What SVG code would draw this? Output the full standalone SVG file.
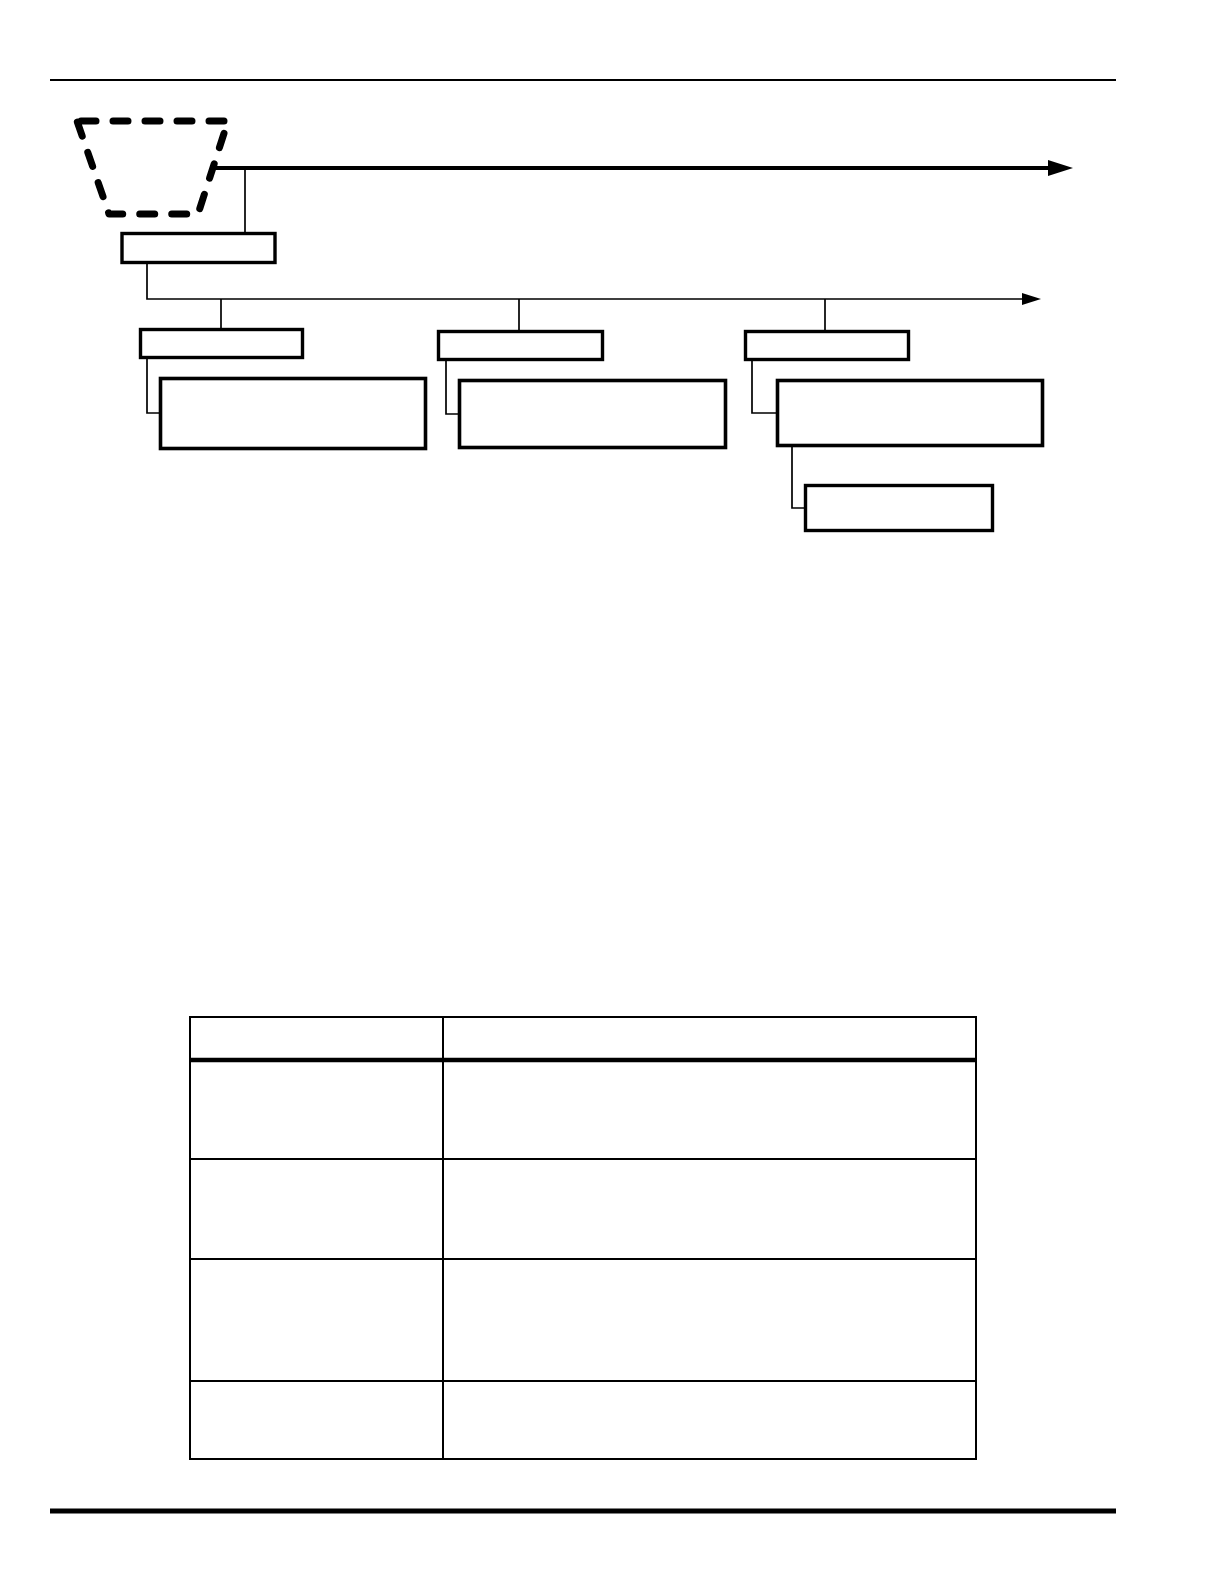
<svg xmlns="http://www.w3.org/2000/svg" width="1224" height="1584" viewBox="0 0 1224 1584">
  <style>
    .box { fill: #ffffff; stroke: #000000; stroke-width: 3.4; }
    .box2 { fill: #ffffff; stroke: #000000; stroke-width: 3.6; }
    .thin { fill: none; stroke: #000000; stroke-width: 1.7; }
    .grid { fill: none; stroke: #000000; stroke-width: 2; }
    .rule { stroke: #000000; fill: none; }
  </style>
  <defs>
    <marker id="arrowBig" markerUnits="userSpaceOnUse" markerWidth="26" markerHeight="18" refX="0" refY="8" orient="auto">
      <path d="M0,0 L25,8 L0,16 Z" fill="#000000"/>
    </marker>
    <marker id="arrowSmall" markerUnits="userSpaceOnUse" markerWidth="20" markerHeight="14" refX="0" refY="6" orient="auto">
      <path d="M0,0 L19,6 L0,12 Z" fill="#000000"/>
    </marker>
  </defs>
  <rect x="0" y="0" width="1224" height="1584" fill="#ffffff"/>

  <!-- page rules -->
  <line class="rule" x1="50" y1="80" x2="1116" y2="80" stroke-width="2"/>
  <line class="rule" x1="50" y1="1511" x2="1116" y2="1511" stroke-width="5"/>

  <g id="connectors">
    <line x1="213" y1="168" x2="1048" y2="168" stroke="#000" stroke-width="4" marker-end="url(#arrowBig)"/>
    <line class="thin" x1="245" y1="168" x2="245" y2="232"/>
    <polyline class="thin" points="147,264 147,299 1022,299" marker-end="url(#arrowSmall)"/>
    <line class="thin" x1="221" y1="299" x2="221" y2="328"/>
    <line class="thin" x1="519" y1="299" x2="519" y2="330"/>
    <line class="thin" x1="825" y1="299" x2="825" y2="330"/>
    <polyline class="thin" points="147,359 147,413 159,413"/>
    <polyline class="thin" points="446,361 446,414 458,414"/>
    <polyline class="thin" points="752,361 752,413 776,413"/>
    <polyline class="thin" points="792,447 792,508 804,508"/>
  </g>

  <g id="source">
    <path d="M77,121 L228,121 L198,214 L109,214 Z" fill="none" stroke="#000" stroke-width="7" stroke-linecap="round" stroke-linejoin="round" stroke-dasharray="15 17" stroke-dashoffset="-4"/>
  </g>

  <g id="node-main">
    <rect class="box" x="122" y="233.5" width="153" height="29"/>
  </g>
  <g id="node-a">
    <rect class="box" x="140.5" y="329.5" width="162" height="28"/>
  </g>
  <g id="node-a-detail">
    <rect class="box2" x="160.5" y="378.5" width="265" height="70"/>
  </g>
  <g id="node-b">
    <rect class="box" x="438.5" y="331.5" width="164" height="28"/>
  </g>
  <g id="node-b-detail">
    <rect class="box2" x="459.5" y="380.5" width="266" height="67"/>
  </g>
  <g id="node-c">
    <rect class="box" x="745.5" y="331.5" width="163" height="28"/>
  </g>
  <g id="node-c-detail">
    <rect class="box2" x="777.5" y="380.5" width="265" height="65"/>
  </g>
  <g id="node-d">
    <rect class="box" x="805.5" y="485.5" width="187" height="45"/>
  </g>

  <g id="table">
    <rect class="grid" x="190" y="1017" width="786" height="442"/>
    <line class="grid" x1="443" y1="1017" x2="443" y2="1459"/>
    <line x1="190" y1="1060" x2="976" y2="1060" stroke="#000" stroke-width="4.5"/>
    <line class="grid" x1="190" y1="1159" x2="976" y2="1159"/>
    <line class="grid" x1="190" y1="1259" x2="976" y2="1259"/>
    <line class="grid" x1="190" y1="1381" x2="976" y2="1381"/>
  </g>
</svg>
